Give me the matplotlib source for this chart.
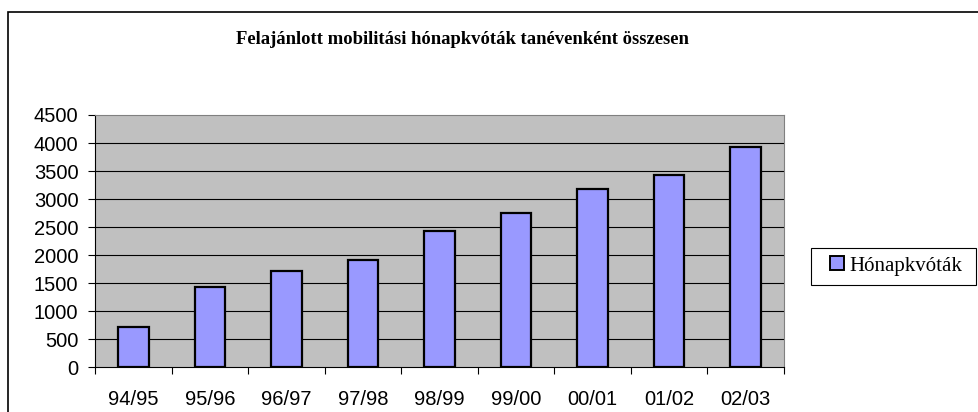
import numpy as np
import matplotlib
matplotlib.use("Agg")
import matplotlib.pyplot as plt
from matplotlib.patches import Rectangle, Patch

# data
years = ['94/95', '95/96', '96/97', '97/98', '98/99', '99/00', '00/01', '01/02', '02/03']
kvotak = [715, 1440, 1715, 1910, 2425, 2750, 3175, 3430, 3935]
yticks = [0, 500, 1000, 1500, 2000, 2500, 3000, 3500, 4000, 4500]

W, H = 979, 412
fig = plt.figure(figsize=(W / 100, H / 100), dpi=100)
fig.patch.set_facecolor('white')

# outer chart frame (runs off the right/bottom edge like the source)
fig.patches.append(Rectangle((8 / W, -0.1), 1.2, (H - 12) / H + 0.1,
                             transform=fig.transFigure, fill=False,
                             edgecolor='black', linewidth=1.2))

ax = fig.add_axes([95 / W, 44.7 / H, 689 / W, 252.3 / H])
ax.set_facecolor('#C0C0C0')

x = np.arange(len(years))
ax.bar(x, kvotak, width=0.4, color='#9999FF', edgecolor='black',
       linewidth=1.6, zorder=3)

ax.set_xlim(-0.5, len(years) - 0.5)
ax.set_ylim(0, 4500)
ax.set_yticks(yticks)
ax.set_yticklabels([str(v) for v in yticks], family='Liberation Sans', fontsize=14.5)
ax.set_xticks(x)
ax.set_xticklabels(years, family='Liberation Sans', fontsize=14.5)
ax.set_xticks(np.arange(-0.5, len(years)), minor=True)
ax.tick_params(axis='x', which='major', length=0, pad=16)
ax.tick_params(axis='x', which='minor', length=5, width=0.8, direction='out')
ax.tick_params(axis='y', length=5, width=0.8, direction='out', pad=7)

for v in yticks[1:-1]:
    ax.axhline(v, color='black', linewidth=0.8, zorder=1)

ax.spines['left'].set_color('black')
ax.spines['bottom'].set_color('black')
ax.spines['left'].set_linewidth(0.8)
ax.spines['bottom'].set_linewidth(0.8)
ax.spines['top'].set_color('#808080')
ax.spines['right'].set_color('#808080')

fig.text(462 / W, (H - 39) / H, 'Felajánlott mobilitási hónapkvóták tanévenként összesen',
         family='Liberation Serif', fontweight='bold', fontsize=13.4,
         ha='center', va='center')

# legend box
fig.patches.append(Rectangle((811.5 / W, (H - 285) / H), 165 / W, 37.5 / H,
                             transform=fig.transFigure, facecolor='white',
                             edgecolor='black', linewidth=0.8))
handle = Patch(facecolor='#9999FF', edgecolor='black', linewidth=1.4)
leg = fig.legend([handle], ['Hónapkvóták'], loc='center left',
                 bbox_to_anchor=(830.5 / W, (H - 266) / H),
                 prop={'family': 'Liberation Serif', 'size': 15},
                 frameon=False, handlelength=0.66, handleheight=0.66,
                 handletextpad=0.25, borderpad=0, borderaxespad=0)

fig.savefig('out.png', dpi=100)
